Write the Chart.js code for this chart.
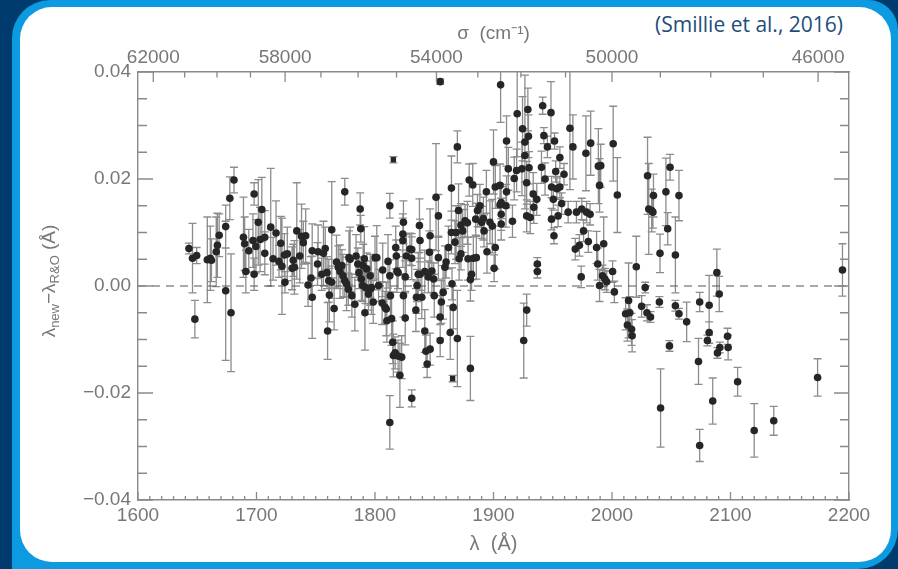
<!DOCTYPE html>
<html>
<head>
<meta charset="utf-8">
<script src="https://cdn.jsdelivr.net/npm/chart.js@4.4.1/dist/chart.umd.min.js"></script>
<style>
  html, body { margin: 0; padding: 0; }
  body { width: 898px; height: 569px; background: #003b6d; position: relative; overflow: hidden; }
  #frame { position: absolute; left: 12px; top: 0; width: 886px; height: 569px; background: #0c9ae0; border-radius: 38px 30px 40px 0; }
  #card { position: absolute; left: 20px; top: 7px; width: 871px; height: 555px; background: #fff; border-radius: 32px; }
  #cite { position: absolute; right: 55px; top: 10px; font: 21px "Open Sans", sans-serif; color: #1e4d7b; white-space: nowrap; }
  canvas { position: absolute; left: 0; top: 0; }
</style>
</head>
<body>
<div id="frame"></div>
<div id="card"></div>
<div id="cite">(Smillie et al., 2016)</div>
<canvas id="chart" width="898" height="569"></canvas>
<script>
// wavelength (Å), λnew − λR&O (mÅ), 1σ error (mÅ)
const lambdaA = [
  1643, 1646, 1648, 1649.5, 1658.5, 1661, 1662, 1666, 1667, 1668.5,
  1674, 1674, 1677.5, 1678.5, 1681, 1689, 1690, 1691, 1693.5, 1697,
  1698, 1698, 1699.5, 1701.5, 1703, 1704.5, 1707, 1707, 1712, 1714,
  1716.5, 1719, 1720.5, 1721.5, 1723.5, 1724, 1726, 1730, 1731, 1732,
  1734, 1736.5, 1738, 1739.5, 1741.5, 1743.5, 1746, 1747, 1747, 1751.5,
  1752, 1755, 1756.5, 1758, 1759.5, 1760, 1761, 1761.5, 1763.5, 1763.5,
  1765.5, 1767.5, 1769, 1770.5, 1772, 1773, 1774.5, 1774.5, 1776, 1777.5,
  1778, 1779, 1780.5, 1783, 1784, 1785.5, 1786.5, 1787.5, 1788, 1788.5,
  1789.5, 1790, 1791, 1791.5, 1792, 1793, 1794.5, 1796, 1796, 1797,
  1798.5, 1800, 1801.5, 1803, 1806, 1806.5, 1808.5, 1809.5, 1810, 1811,
  1812.5, 1812.5, 1812.5, 1813, 1814, 1815, 1815.5, 1817, 1817.5, 1818,
  1818.5, 1819.5, 1819.5, 1821, 1822.5, 1823.5, 1823.5, 1824, 1824, 1825.5,
  1825.5, 1826.5, 1829.5, 1831, 1831, 1831, 1834.5, 1835, 1835.5, 1836.5,
  1837.5, 1838, 1838, 1839.5, 1842, 1842, 1843, 1844, 1845, 1846,
  1846.5, 1846.5, 1848, 1849.5, 1850, 1851.5, 1853.5, 1853.5, 1855, 1855,
  1855, 1856, 1857.5, 1859, 1860, 1862, 1863.5, 1864.5, 1864.5, 1865,
  1866, 1867.5, 1868.5, 1869.5, 1869.5, 1870.5, 1871, 1872.5, 1872.5, 1874,
  1876, 1878, 1878.5, 1879.5, 1880.5, 1880.5, 1881.5, 1882.5, 1883, 1885,
  1885.5, 1886.5, 1888.5, 1890, 1891.5, 1892, 1894, 1894.5, 1897, 1899,
  1900, 1900.5, 1901.5, 1901.5, 1905.5, 1905.5, 1906, 1906.5, 1906.5, 1906.5,
  1910.5, 1911, 1911, 1912.5, 1916, 1917.5, 1919.5, 1920, 1924, 1924.5,
  1925.5, 1926.5, 1926.5, 1928, 1928, 1928, 1929, 1929.5, 1930, 1931,
  1933.5, 1934, 1936.5, 1937, 1937, 1940.5, 1941.5, 1942.5, 1943.5, 1945.5,
  1948.5, 1949, 1949, 1950.5, 1951, 1951.5, 1952.5, 1953.5, 1954.5, 1956,
  1956, 1957.5, 1959.5, 1963, 1964.5, 1967, 1969, 1970, 1972.5, 1974,
  1974.5, 1976, 1978, 1978.5, 1980, 1981.5, 1982, 1987, 1988, 1988.5,
  1989.5, 1989.5, 1990.5, 1992, 1993, 1994, 1995.5, 2000.5, 2001, 2002,
  2004.5, 2011.5, 2013, 2014, 2015, 2016.5, 2017, 2020.5, 2025, 2028,
  2029.5, 2030, 2031, 2032.5, 2033.5, 2034.5, 2035, 2040, 2040.5, 2041,
  2045.5, 2047, 2048.5, 2049, 2053.5, 2053.5, 2056.5, 2056.5, 2063, 2073,
  2074, 2074, 2080.5, 2082, 2082, 2085, 2088.5, 2089, 2090.5, 2091,
  2097.5, 2098, 2106, 2120, 2136.5, 2173.5, 2194.5
];
const deltaMA = [
  7.0, 5.2, -6.2, 5.7, 4.9, 5.2, 4.8, 6.4, 7.6, 9.5,
  11.1, -0.9, 16.4, -5.0, 19.8, 9.1, 7.9, 2.7, 6.6, 8.5,
  17.2, 2.2, 7.4, 11.9, 8.7, 14.3, 6.1, 9.1, 11.0, 5.1,
  9.9, 4.6, 8.0, 3.7, 5.8, 0.7, 6.0, 3.3, 4.8, 3.5,
  10.3, 5.6, 9.3, 8.1, 9.4, 0.2, 1.5, -2.1, 6.6, 4.1,
  6.4, 2.2, 6.1, 7.0, 2.5, -8.4, 1.0, -1.7, 10.5, 0.7,
  -4.2, 4.5, 3.5, 2.7, 3.8, 1.9, 17.6, 1.0, 0.4, -0.6,
  5.3, 5.0, -1.8, -3.4, 5.6, 4.1, 2.5, 14.4, 10.7, 1.3,
  0.1, 3.8, 5.1, -5.0, -0.3, 3.2, -1.5, 1.9, -0.6, -0.3,
  -3.0, 5.3, 5.3, 0.1, -3.2, 3.0, -4.0, -4.3, -6.5, 4.6,
  15.0, 1.9, -25.5, -1.8, -6.1, -10.5, -13.0, -12.5, 7.2, 5.6,
  2.8, 2.5, -13.1, -16.7, -13.3, 8.5, 9.7, 11.9, -1.8, 1.7,
  -6.0, 5.6, 6.9, 6.8, 5.2, -21.0, -4.5, -2.1, 0.1, 2.2,
  11.3, 8.5, 2.2, -2.1, 2.7, -8.4, -12.2, -14.6, 1.7, 6.3,
  9.4, -11.8, 2.8, 1.3, -1.8, 16.6, 13.1, 5.3, 38.2, -5.8,
  -10.2, -3.0, -1.2, 3.5, 4.5, 7.2, -8.7, 18.3, 10.0, 0.4,
  -4.0, 8.2, 10.0, 26.0, -9.8, 14.1, 5.1, 6.0, 11.4, 10.3,
  12.2, 11.8, 5.1, 19.8, 1.2, -15.4, 2.2, 18.9, 5.2, 12.5,
  5.3, 14.1, 15.0, 11.9, 12.6, 10.3, 17.6, 6.4, 11.9, 11.2,
  23.2, 3.3, 18.5, 7.2, 18.8, 15.2, 37.6, 15.6, 13.4, 11.6,
  15.0, 17.6, 27.1, 21.9, 12.1, 20.1, 21.6, 32.2, 21.9, 29.4,
  -10.2, 24.4, 26.9, 13.1, -4.5, 19.3, 33.0, 28.0, 22.1, 12.8,
  17.2, 14.7, 16.2, 4.1, 2.7, 22.2, 33.7, 28.1, 20.0, 26.0,
  32.4, 18.5, 12.5, 16.2, 9.4, 27.1, 21.4, 18.2, 13.1, 24.0,
  18.5, 15.4, 20.9, 13.8, 29.5, 26.0, 6.9, 13.8, 7.6, 1.7,
  14.4, 10.3, 24.8, 13.8, 8.3, 13.4, 26.7, 7.2, 4.1, 22.4,
  18.8, 0.1, 22.5, 1.9, 7.9, 1.3, 0.8, 2.7, 26.6, -1.1,
  17.0, -5.2, -7.3, -2.7, -5.0, -8.1, -9.3, 3.6, -3.8, -0.3,
  -5.0, 20.6, 14.4, -5.8, 14.1, 13.8, 16.9, -3.0, 6.1, -22.8,
  17.6, 10.7, -11.2, 22.2, 5.8, -3.7, -5.2, 16.9, -6.7, -14.1,
  -3.0, -29.8, -10.2, -8.7, -3.6, -21.5, 2.5, -12.5, -1.5, -11.5,
  -9.4, -11.5, -17.9, -27.0, -25.2, -17.1, 3.0
];
const errMA = [
  1.0, 6.5, 3.5, 1.5, 8, 6, 4, 6.5, 6, 4,
  4, 13, 4, 11, 2.4, 7.5, 5, 4, 4, 5,
  2.1, 3, 5, 8, 6, 6, 4, 5, 11, 4,
  6, 3, 5, 9, 4, 2, 5, 4, 3, 5,
  9, 5, 6, 4, 5, 4, 4, 7.7, 5, 4,
  5, 3, 6, 4, 3, 5.3, 4, 5, 9, 3,
  4, 5, 4, 5, 3, 4, 2.5, 3, 5, 3,
  5, 6, 4, 5, 4, 3, 3, 3, 2.5, 4,
  3, 4, 6, 7, 3, 3, 3, 4, 3, 5,
  4, 4, 6, 3, 4, 5, 3, 5, 4, 5,
  2.3, 3, 5, 4, 5, 4, 4, 3, 4, 3,
  4, 3, 3, 6, 4, 5, 3, 4, 4, 3,
  5, 4, 3, 3, 4, 1.6, 4, 3, 3, 4,
  5, 4, 3, 4, 4, 4, 3, 2.5, 3, 4,
  5, 3, 4, 3, 4, 10, 4, 4, 0.5, 4,
  3, 4, 5, 4, 3, 4, 5, 6, 4, 3,
  4, 4, 5, 3, 9, 5, 4, 3, 4, 4,
  3, 4, 4, 3, 4, 6, 3, 4, 4, 3,
  4, 3, 4, 3, 4, 3, 4, 4, 4, 5,
  6, 2.5, 4, 4, 4, 4, 7, 3, 3, 3,
  4, 3, 4.7, 4, 3, 4, 4, 8, 5, 6,
  7, 5, 12.5, 3, 3, 4, 4, 4, 3, 3,
  4, 3, 3, 1.2, 1.2, 3, 1.6, 1.5, 3, 2,
  5.8, 2, 2, 2, 1.5, 1.5, 2, 2, 2, 2,
  2, 2, 2, 2, 11.5, 6, 2, 2, 2, 2,
  2, 2, 7, 2, 2, 2, 6, 3, 3, 7,
  5, 3, 4, 2, 5, 2, 2, 2, 7, 2,
  7, 3, 3, 7, 3, 3, 3, 5.7, 2, 1,
  1.5, 7.2, 8.5, 1, 4, 3, 4, 1, 3.6, 7.3,
  6.3, 3, 1, 2.4, 7.1, 1, 1, 4.7, 3.7, 4.3,
  1.8, 3, 1, 2, 5.6, 4.3, 4.4, 1, 3.3, 1,
  1.5, 2.3, 2.7, 5, 2.7, 3.5, 4.9
];

// lines plotted with square symbols
const squareLambdaA = [1815.5, 1865.5];
const squareDeltaMA = [23.6, -17.3];
const squareErrMA = [0.6, 0.6];

// axes
const lambdaMin = 1600, lambdaMax = 2200, lambdaStep = 100, lambdaMinorStep = 10;
const deltaMin = -0.04, deltaMax = 0.04, deltaStep = 0.02;
const deltaMinorStepMA = 5;
const sigmaMajor = [62000, 58000, 54000, 50000, 46000];
const sigmaMinorStep = 1000;

const AXIS_COLOR = '#8a8a8a';
const TEXT_COLOR = '#777777';
const FONT = 'Liberation Sans';

function toPoints(lams, vals, errs) {
  return lams.map((l, i) => ({ x: l, y: vals[i] / 1000, err: errs[i] / 1000 }));
}

const errorBars = {
  id: 'errorBars',
  beforeDatasetsDraw(chart) {
    const { ctx, chartArea: a, scales } = chart;
    ctx.save();
    ctx.beginPath();
    ctx.rect(a.left, a.top, a.right - a.left, a.bottom - a.top);
    ctx.clip();
    ctx.strokeStyle = '#8c8c8c';
    ctx.lineWidth = 1.3;
    ctx.beginPath();
    chart.data.datasets.forEach(ds => {
      if (!ds.errorBars) {
        return;
      }
      ds.data.forEach(p => {
        const px = scales.x.getPixelForValue(p.x);
        const top = scales.y.getPixelForValue(p.y + p.err);
        const bot = scales.y.getPixelForValue(p.y - p.err);
        ctx.moveTo(px, top); ctx.lineTo(px, bot);
        ctx.moveTo(px - 4, top); ctx.lineTo(px + 4, top);
        ctx.moveTo(px - 4, bot); ctx.lineTo(px + 4, bot);
      });
    });
    ctx.stroke();
    ctx.restore();
  }
};

const inwardTicks = {
  id: 'inwardTicks',
  afterDraw(chart) {
    const { ctx, chartArea: a, scales } = chart;
    ctx.save();
    ctx.strokeStyle = AXIS_COLOR;
    ctx.lineWidth = 1.3;
    ctx.beginPath();
    for (let l = lambdaMin; l <= lambdaMax; l += lambdaMinorStep) {
      const px = scales.x.getPixelForValue(l);
      const len = l % lambdaStep === 0 ? 8 : 4;
      ctx.moveTo(px, a.bottom); ctx.lineTo(px, a.bottom - len);
    }
    for (let s = sigmaMajor[0]; s >= sigmaMajor[sigmaMajor.length - 1]; s -= sigmaMinorStep) {
      const px = scales.x2.getPixelForValue(1e8 / s);
      const len = sigmaMajor.includes(s) ? 10 : 5.5;
      ctx.moveTo(px, a.top); ctx.lineTo(px, a.top + len);
    }
    for (let v = -40; v <= 40; v += deltaMinorStepMA) {
      const py = scales.y.getPixelForValue(v / 1000);
      const len = v % 20 === 0 ? 15 : 9;
      ctx.moveTo(a.left, py); ctx.lineTo(a.left + len, py);
      ctx.moveTo(a.right, py); ctx.lineTo(a.right - len, py);
    }
    ctx.stroke();
    ctx.restore();
  }
};

// y title with subscripts: λ_new − λ_R&O (Å)
const yTitle = {
  id: 'yTitle',
  afterDraw(chart) {
    const { ctx } = chart;
    const parts = [
      ['λ', 19, 0], ['new', 13, 5], ['\u2212λ', 19, 0], ['R&O', 13, 5], [' (Å)', 19, 0]
    ];
    ctx.save();
    ctx.fillStyle = TEXT_COLOR;
    ctx.textBaseline = 'middle';
    ctx.textAlign = 'left';
    let total = 0;
    parts.forEach(([t, size]) => { ctx.font = `${size}px "${FONT}"`; total += ctx.measureText(t).width; });
    ctx.translate(50, 281);
    ctx.rotate(-Math.PI / 2);
    let x = -total / 2;
    parts.forEach(([t, size, dy]) => {
      ctx.font = `${size}px "${FONT}"`;
      ctx.fillText(t, x, dy);
      x += ctx.measureText(t).width;
    });
    ctx.restore();
  }
};

const tickFont = { family: FONT, size: 19 };

new Chart(document.getElementById('chart'), {
  type: 'scatter',
  data: {
    datasets: [
      {
        data: toPoints(lambdaA, deltaMA, errMA),
        errorBars: true,
        pointRadius: 3.8,
        pointBackgroundColor: '#262626',
        pointBorderWidth: 0,
        order: 1
      },
      {
        data: toPoints(squareLambdaA, squareDeltaMA, squareErrMA),
        errorBars: true,
        pointStyle: 'rect',
        pointRadius: 3.8,
        pointBackgroundColor: '#262626',
        pointBorderWidth: 0,
        order: 1
      },
      {
        type: 'line',
        data: [{ x: lambdaMin, y: 0 }, { x: lambdaMax, y: 0 }],
        borderColor: '#555555',
        borderWidth: 1.2,
        borderDash: [8, 6],
        pointRadius: 0,
        order: 2
      }
    ]
  },
  options: {
    responsive: false,
    animation: false,
    events: [],
    layout: { padding: 0 },
    plugins: { legend: { display: false }, tooltip: { enabled: false } },
    scales: {
      x: {
        type: 'linear', position: 'bottom', min: lambdaMin, max: lambdaMax,
        afterFit: s => { s.height = 69; },
        grid: { display: false, drawTicks: false },
        border: { color: AXIS_COLOR, width: 1.4 },
        ticks: { stepSize: lambdaStep, padding: 4, color: TEXT_COLOR, font: tickFont, maxRotation: 0, callback: v => String(v) },
        title: { display: true, text: 'λ  (Å)', color: TEXT_COLOR, font: { family: FONT, size: 20 }, padding: { top: 0, bottom: 13 } }
      },
      x2: {
        type: 'linear', position: 'top', min: lambdaMin, max: lambdaMax,
        afterFit: s => { s.height = 72; },
        afterBuildTicks: s => { s.ticks = sigmaMajor.map(sig => ({ value: 1e8 / sig })); },
        grid: { display: false, drawTicks: false },
        border: { color: AXIS_COLOR, width: 1.4 },
        ticks: { autoSkip: false, padding: 3, color: TEXT_COLOR, font: tickFont, maxRotation: 0, callback: v => String(Math.round(1e8 / v)) },
        title: { display: true, text: 'σ  (cm⁻¹)', color: TEXT_COLOR, font: { family: FONT, size: 19 }, padding: { top: 22, bottom: 0 } }
      },
      y: {
        type: 'linear', position: 'left', min: deltaMin, max: deltaMax,
        afterFit: s => { s.width = 138; },
        grid: { display: false, drawTicks: false },
        border: { color: AXIS_COLOR, width: 1.4 },
        ticks: {
          stepSize: deltaStep, padding: 7, color: TEXT_COLOR, font: tickFont,
          callback: v => (Math.abs(v) < 1e-9 ? '0.00' : (v < 0 ? '\u2212' : '') + Math.abs(v).toFixed(2))
        }
      },
      y2: {
        type: 'linear', position: 'right', min: deltaMin, max: deltaMax,
        afterFit: s => { s.width = 49; },
        grid: { display: false, drawTicks: false },
        border: { color: AXIS_COLOR, width: 1.4 },
        ticks: { display: false }
      }
    }
  },
  plugins: [errorBars, inwardTicks, yTitle]
});
</script>
</body>
</html>
